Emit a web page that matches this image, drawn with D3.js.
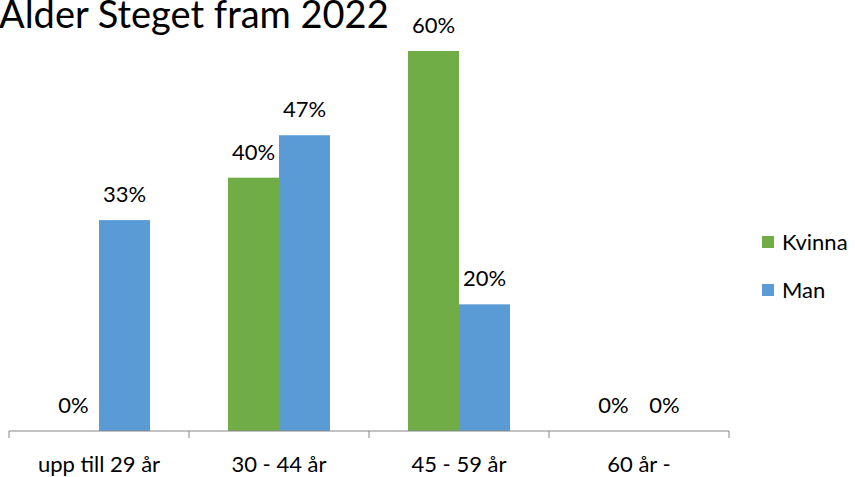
<!DOCTYPE html>
<html><head><meta charset="utf-8">
<script src="https://cdn.jsdelivr.net/npm/d3@7"></script>
<style>body{margin:0;background:#fff;overflow:hidden}svg{display:block}</style>
</head><body>
<svg id="c" width="855" height="477"></svg>
<script>
const title = "Ålder Steget fram 2022";
const categories = ["upp till 29 år", "30 - 44 år", "45 - 59 år", "60 år -"];
const seriesNames = ["Kvinna", "Man"];
const kvinna = [0, 0.40, 0.60, 0];
const man = [0.333, 0.467, 0.20, 0];
const colors = ["#70AD47", "#5B9BD5"];

const font = "Lato, 'Open Sans', sans-serif";
const fs = 22;
const svg = d3.select("#c");
const values = [kvinna, man];

const x0 = d3.scaleBand().domain(categories).range([9, 729]);
const x1 = d3.scaleBand().domain(seriesNames).range([0, x0.bandwidth()]).paddingOuter(0.765);
const y = d3.scaleLinear().domain([0, 0.6]).range([431, 51]);

const groups = svg.selectAll("g.cat").data(categories).enter().append("g")
  .attr("transform", d => `translate(${x0(d)},0)`);

seriesNames.forEach((s, si) => {
  groups.append("rect")
    .attr("x", x1(s))
    .attr("width", x1.bandwidth())
    .attr("y", (d, i) => y(values[si][i]))
    .attr("height", (d, i) => y(0) - y(values[si][i]))
    .attr("fill", colors[si]);
  groups.append("text")
    .attr("x", x1(s) + x1.bandwidth() / 2)
    .attr("y", (d, i) => y(values[si][i]) - 18)
    .attr("text-anchor", "middle")
    .attr("font-family", font).attr("font-size", fs).attr("fill", "#000")
    .text((d, i) => d3.format(".0%")(values[si][i]));
});

const axis = d3.axisBottom(x0).tickSize(0).tickPadding(0);
const ax = svg.append("g").attr("transform", "translate(0,431)");
ax.append("line").attr("x1", x0.range()[0]).attr("x2", x0.range()[1]).attr("stroke", "#868686");
const bounds = categories.map(c => x0(c)).concat([x0.range()[1]]);
ax.selectAll("line.tk").data(bounds).enter().append("line")
  .attr("x1", d => d).attr("x2", d => d).attr("y1", 0).attr("y2", 7).attr("stroke", "#868686");
const ag = svg.append("g").attr("transform", "translate(0,431)").call(axis);
ag.select(".domain").remove();
ag.selectAll("text").attr("font-family", font).attr("font-size", fs).attr("fill", "#000")
  .attr("dy", null).attr("y", 41);

svg.append("text").attr("x", -1).attr("y", 28)
  .attr("font-family", font).attr("font-size", 38).attr("fill", "#000").text(title);

const lg = svg.selectAll("g.lg").data(seriesNames).enter().append("g")
  .attr("transform", (d, i) => `translate(762,${250 + i * 48})`);
lg.append("rect").attr("y", -14).attr("width", 12).attr("height", 12).attr("fill", (d, i) => colors[i]);
lg.append("text").attr("x", 20).attr("y", 0).attr("font-family", font).attr("font-size", fs)
  .attr("fill", "#000").text(d => d);
</script>
</body></html>
